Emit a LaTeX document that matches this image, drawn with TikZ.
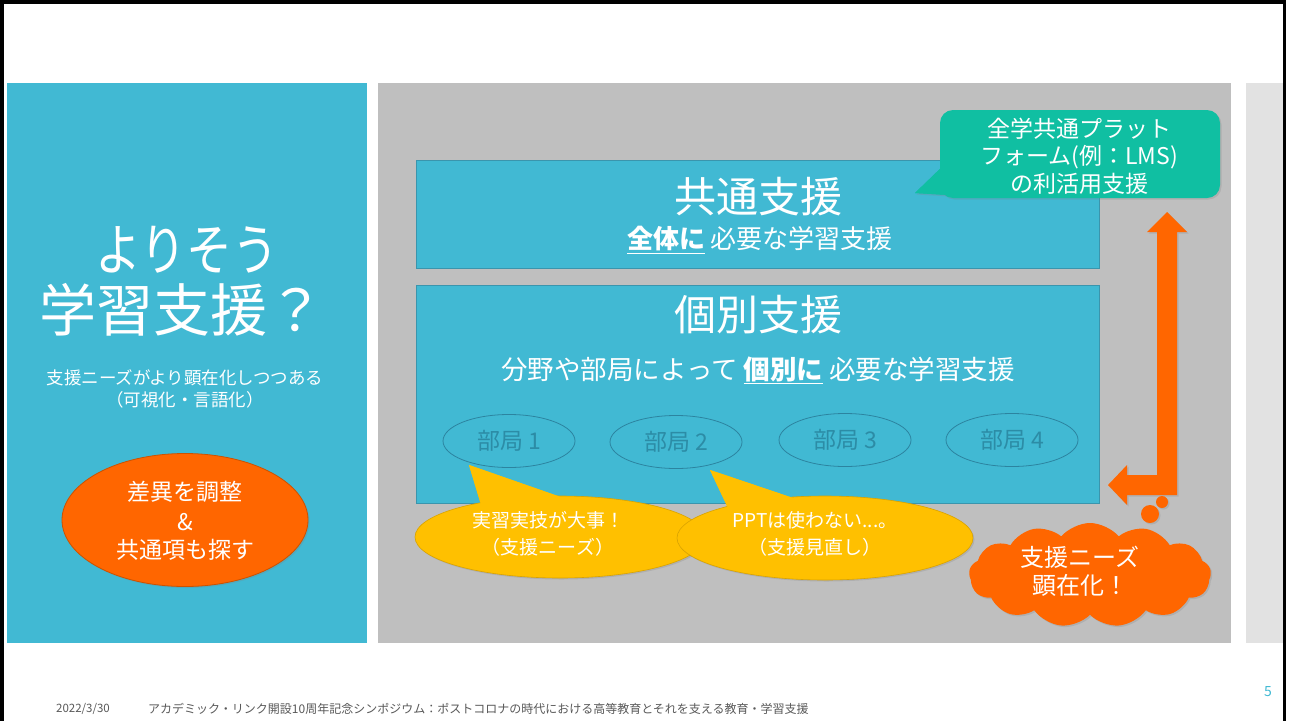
\documentclass[tikz,border=0pt]{standalone}
\usepackage{fontspec}
\setmainfont{Noto Sans CJK JP}
\usetikzlibrary{shapes.geometric,shapes.symbols,shadows}
\definecolor{panelblue}{HTML}{41B9D3}
\definecolor{boxedge}{HTML}{3A95AD}
\definecolor{panelgray}{HTML}{BFBFBF}
\definecolor{stripgray}{HTML}{E2E2E2}
\definecolor{orng}{HTML}{FF6600}
\definecolor{yel}{HTML}{FFC000}
\definecolor{tealc}{HTML}{10BFA2}
\definecolor{deptxt}{HTML}{2C8CA6}
\definecolor{depedge}{HTML}{2C84A0}
\definecolor{foot}{HTML}{595959}
\definecolor{pnum}{HTML}{41B9D3}
\tikzset{
  fs/.style={font=\fontsize{#1pt}{#1pt}\selectfont},
  wtext/.style={text=white, align=center, inner sep=0pt},
  bigbox/.style={fill=panelblue, draw=boxedge, line width=1pt},
  dept/.style={ellipse, draw=depedge, line width=0.8pt, minimum width=132pt, minimum height=53pt, inner sep=0pt, text=deptxt, fs=23},
  bubble/.style={fill=yel, draw=yel!85!black, line width=0.6pt},
  shad/.style={drop shadow={opacity=0.25, shadow xshift=1.5pt, shadow yshift=-1.5pt}},
}
\begin{document}
\begin{tikzpicture}[x=1pt,y=-1pt]
\useasboundingbox (0,0) rectangle (1289,720);
\fill[white] (0,0) rectangle (1289,720);
% frame
\draw[black, line width=3.5pt] (1.75,730) -- (1.75,1.75) -- (1284.5,1.75) -- (1284.5,730);
% panels
\fill[panelblue] (7,83) rectangle (367,643);
\fill[panelgray] (378,83) rectangle (1231,643);
\fill[stripgray] (1246,83) rectangle (1283,643);

% left panel texts
\node[wtext, fs=56] (t1) at (187,250) {\scalebox{0.82}[1]{よりそう}};
\node[wtext, fs=57] (t2) at (182,310) {学習支援？};
\node[wtext, fs=17.5] (t3) at (185,378) {支援ニーズがより顕在化しつつある};
\node[wtext, fs=17.5] (t4) at (185,400) {（可視化・言語化）};
\node[ellipse, fill=orng, draw=orng!80!black, line width=0.8pt, minimum width=246pt, minimum height=133pt, inner sep=0pt, shad] (diff) at (185,520) {};
\node[wtext, fs=23] (d1) at (185,492) {差異を調整};
\node[wtext, fs=23] (d2) at (185,522) {\&};
\node[wtext, fs=23] (d3) at (185,550) {共通項も探す};

% main boxes
\draw[bigbox] (416,160) rectangle (1099,268);
\node[wtext, fs=42] (kyotsu) at (758,197) {共通支援};
\node[wtext, fs=26] (kyotsus) at (760,240) {\underline{\textbf{全体に}} 必要な学習支援};
\draw[bigbox] (416,285) rectangle (1099,503);
\node[wtext, fs=42] (kobetsu) at (758,315) {個別支援};
\node[wtext, fs=26.5] (kobetsus) at (758,370) {分野や部局によって \underline{\textbf{個別に}} 必要な学習支援};

% departments
\node[dept] (b1) at (509,441) {部局 1};
\node[dept] (b2) at (676,442) {部局 2};
\node[dept] (b3) at (845,440) {部局 3};
\node[dept] (b4) at (1012,440) {部局 4};

% yellow speech bubbles
\fill[yel, shad] (469,465) -- (482,508) -- (575,502) -- cycle;
\node[ellipse, bubble, minimum width=290pt, minimum height=82pt, inner sep=0pt, shad] (y1) at (560,537) {};
\fill[yel] (469,465) -- (482,508) -- (575,502) -- cycle;
\fill[yel, shad] (710,470) -- (728,508) -- (805,502) -- cycle;
\node[ellipse, bubble, minimum width=296pt, minimum height=84pt, inner sep=0pt, shad] (y2) at (825,538) {};
\fill[yel] (710,470) -- (728,508) -- (805,502) -- cycle;
\node[wtext, fs=19] (y1a) at (548,520) {実習実技が大事！};
\node[wtext, fs=19] (y1b) at (548,547) {（支援ニーズ）};
\node[wtext, fs=19] (y2a) at (815,520) {PPTは使わない...。};
\node[wtext, fs=19] (y2b) at (815,547) {（支援見直し）};

% teal callout
\fill[tealc, shad] (944,165) -- (915,193) -- (965,196) -- cycle;
\fill[tealc, rounded corners=13pt, shad] (940,110) rectangle (1220,198);
\fill[tealc] (944,165) -- (915,193) -- (965,196) -- cycle;
\node[wtext, fs=23] (c1) at (1079,129) {全学共通プラット};
\node[wtext, fs=23] (c2) at (1079,157) {フォーム(例：LMS)};
\node[wtext, fs=23] (c3) at (1079,184) {の利活用支援};

% orange bent arrow
\fill[orng, shad] (1167,212) -- (1187,232) -- (1177,232) -- (1177,495) -- (1127,495) -- (1127,505)
  -- (1108,485) -- (1127,465) -- (1127,475) -- (1157,475) -- (1157,232) -- (1147,232) -- cycle;

% cloud
\node[circle, fill=orng, minimum size=12pt, inner sep=0pt, shad] (p1) at (1162,502) {};
\node[circle, fill=orng, minimum size=18pt, inner sep=0pt, shad] (p2) at (1150,514) {};
\node[cloud, cloud puffs=13, cloud puff arc=100, aspect=2.3, fill=orng, inner sep=0pt, minimum width=242pt, minimum height=104pt, shad] (cloud) at (1090,575) {};
\node[wtext, fs=24] (cl1) at (1080,557) {支援ニーズ};
\node[wtext, fs=24] (cl2) at (1080,585) {顕在化！};

% footer
\node[text=foot, fs=11.5, inner sep=0pt] (date) at (83,709) {2022/3/30};
\node[text=foot, fs=12, inner sep=0pt, anchor=west] (ftitle) at (148,709) {アカデミック・リンク開設10周年記念シンポジウム：ポストコロナの時代における高等教育とそれを支える教育・学習支援};
\node[text=pnum, fs=14, inner sep=0pt] (pg) at (1268,692) {5};
\end{tikzpicture}
\end{document}
